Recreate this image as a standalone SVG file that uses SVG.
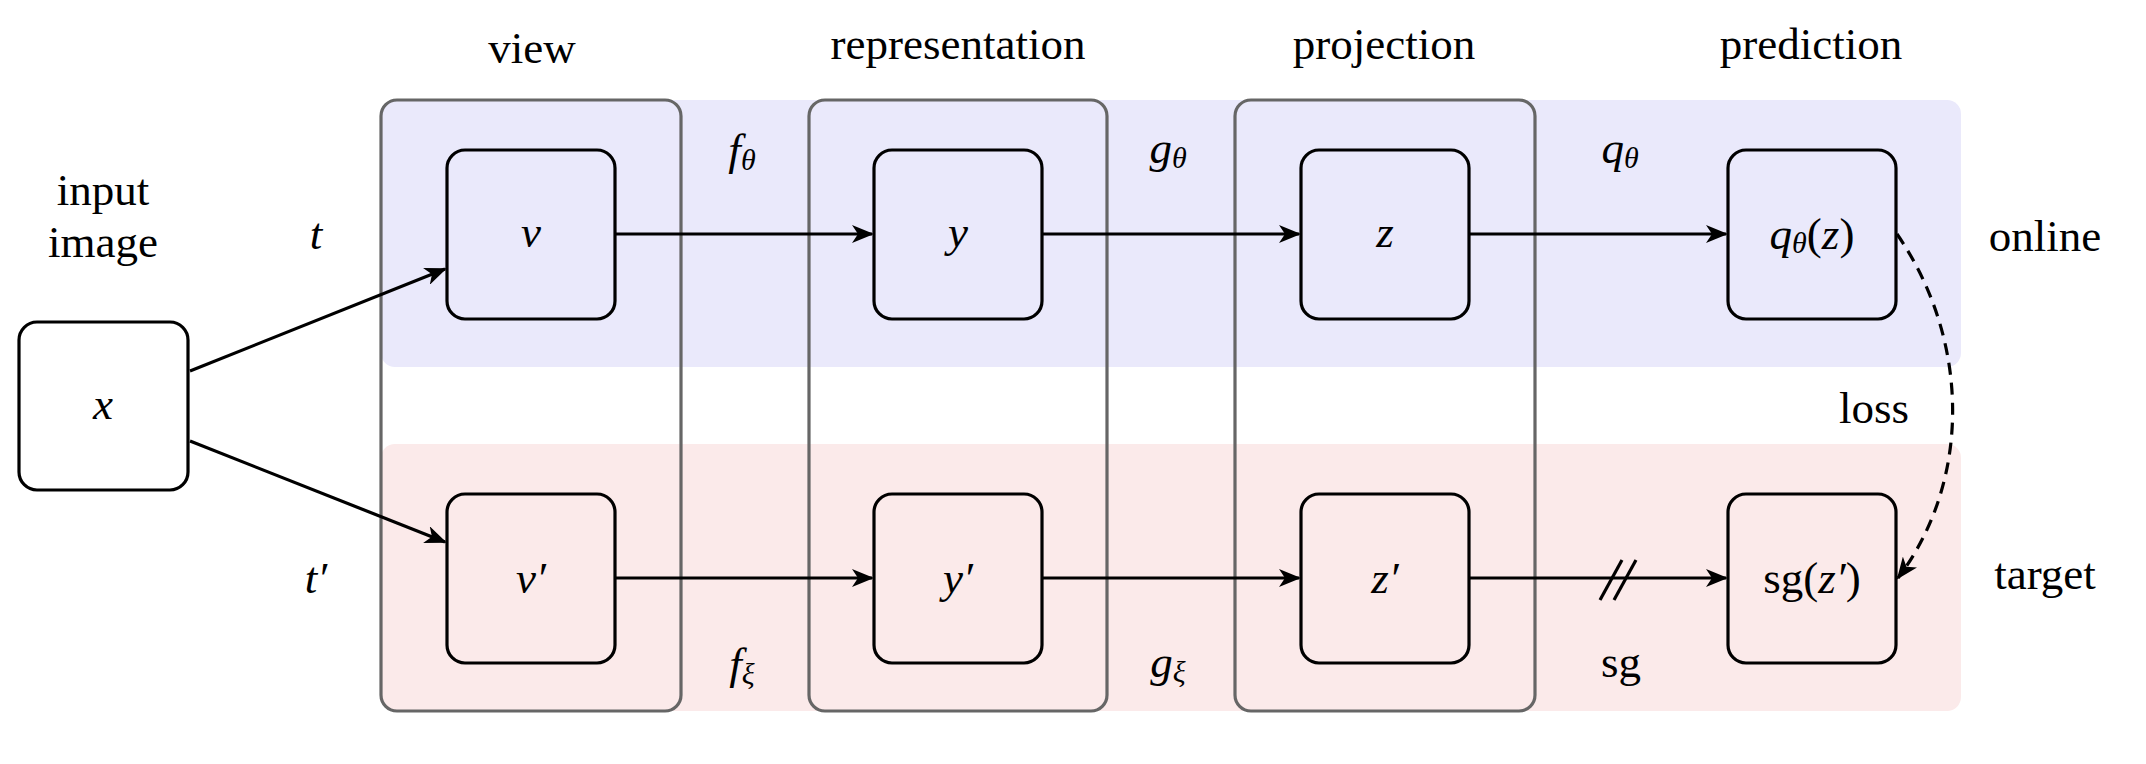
<svg xmlns="http://www.w3.org/2000/svg" width="2146" height="764" viewBox="0 0 2146 764" font-family="Liberation Serif, Times New Roman, serif">
<style>
text{font-family:'Liberation Serif','Times New Roman',serif;font-size:45px;fill:#000;text-anchor:middle;dominant-baseline:central}
.m{font-style:italic}
.sub{font-size:30px}
.node{fill:none;stroke:#000;stroke-width:3.2}
.col{fill:none;stroke:#666;stroke-width:3.2}
.ln{stroke:#000;stroke-width:3.2;fill:none}
</style>
<defs>
<marker id="ah" viewBox="0 0 22 18" refX="20" refY="9" markerWidth="22" markerHeight="18" markerUnits="userSpaceOnUse" orient="auto">
<path d="M0,0 L22,9 L0,18 L6,9 Z" fill="#000"/>
</marker>
</defs>
<rect x="381" y="100" width="1580" height="267" rx="14" fill="#eae9fb"/>
<rect x="381" y="444" width="1580" height="267" rx="14" fill="#fbeaea"/>
<g id="col-view"><rect class="col" x="381" y="100" width="300" height="611" rx="16"/></g>
<g id="col-rep"><rect class="col" x="809" y="100" width="298" height="611" rx="16"/></g>
<g id="col-proj"><rect class="col" x="1235" y="100" width="300" height="611" rx="16"/></g>
<text x="532" y="48">view</text>
<text x="958" y="44">representation</text>
<text x="1384" y="44">projection</text>
<text x="1811" y="44">prediction</text>
<text x="103" y="190">input</text>
<text x="103" y="242">image</text>
<text x="2045" y="236">online</text>
<text x="2045" y="574">target</text>
<text x="1874" y="408">loss</text>
<g id="x"><rect class="node" x="19" y="322" width="169" height="168" rx="18"/><text class="m" x="103" y="404">x</text></g>
<g id="v"><rect class="node" x="447" y="150" width="168" height="169" rx="18"/><text class="m" x="531" y="232">v</text></g>
<g id="vp"><rect class="node" x="447" y="494" width="168" height="169" rx="18"/><text class="m" x="531" y="578">v′</text></g>
<g id="y"><rect class="node" x="874" y="150" width="168" height="169" rx="18"/><text class="m" x="958" y="232">y</text></g>
<g id="yp"><rect class="node" x="874" y="494" width="168" height="169" rx="18"/><text class="m" x="958" y="578">y′</text></g>
<g id="z"><rect class="node" x="1301" y="150" width="168" height="169" rx="18"/><text class="m" x="1385" y="232">z</text></g>
<g id="zp"><rect class="node" x="1301" y="494" width="168" height="169" rx="18"/><text class="m" x="1385" y="578">z′</text></g>
<g id="q"><rect class="node" x="1728" y="150" width="168" height="169" rx="18"/><text x="1812" y="234"><tspan class="m">q</tspan><tspan class="m sub" dy="8">θ</tspan><tspan dy="-8">(</tspan><tspan class="m">z</tspan>)</text></g>
<g id="sg"><rect class="node" x="1728" y="494" width="168" height="169" rx="18"/><text x="1812" y="578">sg(<tspan class="m">z′</tspan>)</text></g>
<g id="labels">
<text x="316" y="234" class="m">t</text>
<text x="316" y="578" class="m">t′</text>
<text x="742" y="150"><tspan class="m">f</tspan><tspan class="m sub" dy="9">θ</tspan></text>
<text x="742" y="664"><tspan class="m">f</tspan><tspan class="m sub" dy="9">ξ</tspan></text>
<text x="1168" y="148"><tspan class="m">g</tspan><tspan class="m sub" dy="9">θ</tspan></text>
<text x="1168" y="662"><tspan class="m">g</tspan><tspan class="m sub" dy="9">ξ</tspan></text>
<text x="1620" y="148"><tspan class="m">q</tspan><tspan class="m sub" dy="9">θ</tspan></text>
<text x="1621" y="662">sg</text>
</g>
<g id="connectors">
<line class="ln" x1="190" y1="371" x2="445" y2="269" marker-end="url(#ah)"/>
<line class="ln" x1="190" y1="441" x2="445" y2="542" marker-end="url(#ah)"/>
<line class="ln" x1="615" y1="234" x2="872" y2="234" marker-end="url(#ah)"/>
<line class="ln" x1="1042" y1="234" x2="1299" y2="234" marker-end="url(#ah)"/>
<line class="ln" x1="1469" y1="234" x2="1726" y2="234" marker-end="url(#ah)"/>
<line class="ln" x1="615" y1="578" x2="872" y2="578" marker-end="url(#ah)"/>
<line class="ln" x1="1042" y1="578" x2="1299" y2="578" marker-end="url(#ah)"/>
<line class="ln" x1="1469" y1="578" x2="1726" y2="578" marker-end="url(#ah)"/>
<line class="ln" x1="1600" y1="600" x2="1622" y2="560"/>
<line class="ln" x1="1614" y1="600" x2="1636" y2="560"/>
<path class="ln" d="M1897,234 C1970,340 1972,480 1898,578" stroke-dasharray="12,8" marker-end="url(#ah)"/>
</g>
</svg>
